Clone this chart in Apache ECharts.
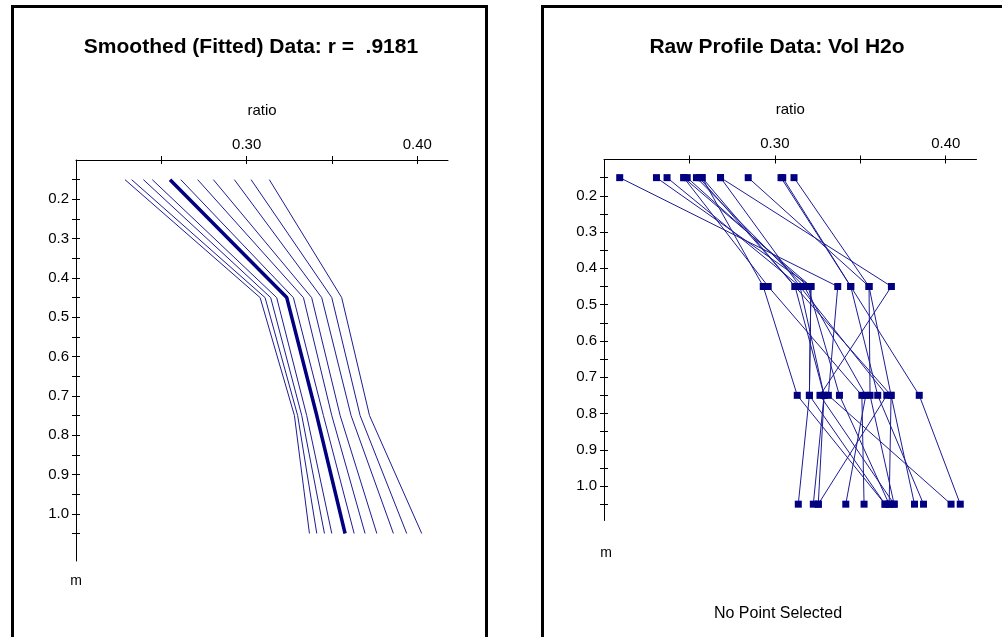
<!DOCTYPE html>
<html>
<head>
<meta charset="utf-8">
<script src="https://cdn.jsdelivr.net/npm/echarts@6/dist/echarts.min.js"></script>
<style>
html,body{margin:0;padding:0;background:#fff;}
#c{width:1002px;height:637px;}
</style>
</head>
<body>
<div id="c"></div>
<script>
// ---------- data ----------
const depths = [0.15, 0.45, 0.75, 1.05];

// Smoothed (fitted) profiles, ratio at each depth
const fitThin = [
  [0.2287, 0.3079, 0.3280, 0.3368],
  [0.2326, 0.3108, 0.3299, 0.3411],
  [0.2395, 0.3141, 0.3323, 0.3456],
  [0.2447, 0.3176, 0.3352, 0.3499],
  [0.2614, 0.3274, 0.3450, 0.3630],
  [0.2713, 0.3333, 0.3499, 0.3694],
  [0.2805, 0.3381, 0.3548, 0.3763],
  [0.2928, 0.3440, 0.3612, 0.3860],
  [0.3026, 0.3499, 0.3665, 0.3938],
  [0.3133, 0.3557, 0.3720, 0.4026]
];
const fitMean = [0.2551, 0.3235, 0.3411, 0.3577];

// Raw profile data (Vol H2o), ratio at each depth
const rawProfiles = [
  [0.2092, 0.3368, 0.3313, 0.4031],
  [0.2307, 0.3211, 0.3202, 0.3137],
  [0.2369, 0.3147, 0.3288, 0.3225],
  [0.2467, 0.2961, 0.3509, 0.3522],
  [0.2574, 0.2932, 0.3131, 0.3645],
  [0.2487, 0.3194, 0.3378, 0.3669],
  [0.2541, 0.3171, 0.3532, 0.3415],
  [0.2557, 0.3118, 0.3680, 0.3817],
  [0.2682, 0.3682, 0.3264, 0.3698],
  [0.2682, 0.3147, 0.3655, 0.3254],
  [0.2844, 0.3551, 0.3557, 0.3698],
  [0.3036, 0.3444, 0.3845, 0.4085],
  [0.3046, 0.3444, 0.3602, 0.3870],
  [0.3112, 0.3551, 0.3680, 0.3669],
  [0.2467, 0.3211, 0.3202, 0.3645],
  [0.2574, 0.3118, 0.3288, 0.3254]
];

// ticks / labels
const xTicks = [0.25, 0.30, 0.35, 0.40];
const xLabels = [0.30, 0.40];
const yTicks = [0.15,0.20,0.25,0.30,0.35,0.40,0.45,0.50,0.55,0.60,0.65,0.70,0.75,0.80,0.85,0.90,0.95,1.00,1.05];
const yLabels = [0.2,0.3,0.4,0.5,0.6,0.7,0.8,0.9,1.0];

// ---------- chart ----------
const FONT = 'Liberation Sans, Arial, sans-serif';
const chart = echarts.init(document.getElementById('c'), null, {renderer:'canvas'});

const grids = [
  {left:76, top:160, width:372, height:401},
  {left:604, top:159.5, width:372.5, height:361}
];
const yMax = [1.12, 1.095];

function xAxes(gi){
  return [
    {
      gridIndex: gi, type:'value', position:'top', min:0.2, max:0.418,
      axisLine:{show:true, lineStyle:{color:'#000', width:1}},
      axisTick:{show:true, customValues:xTicks, length:4, lineStyle:{color:'#000'}},
      axisLabel:{show:true, customValues:xLabels, formatter:v=>v.toFixed(2), color:'#000', fontSize:15, fontFamily:FONT, margin:8},
      splitLine:{show:false},
      name:'ratio', nameLocation:'middle', nameGap:42,
      nameTextStyle:{color:'#000', fontSize:15, fontFamily:FONT}
    },
    {
      gridIndex: gi, type:'value', position:'top', min:0.2, max:0.418,
      axisLine:{show:false},
      axisTick:{show:true, inside:true, customValues:xTicks, length:4, lineStyle:{color:'#000'}},
      axisLabel:{show:false}, splitLine:{show:false}
    }
  ];
}
function yAxes(gi){
  return [
    {
      gridIndex: gi, type:'value', inverse:true, position:'left', min:0.1, max:yMax[gi],
      axisLine:{show:true, lineStyle:{color:'#000', width:1}},
      axisTick:{show:true, customValues:yTicks, length:4, lineStyle:{color:'#000'}},
      axisLabel:{show:true, customValues:yLabels, formatter:v=>v.toFixed(1), color:'#000', fontSize:15, fontFamily:FONT, margin:7},
      splitLine:{show:false}
    },
    {
      gridIndex: gi, type:'value', inverse:true, position:'left', min:0.1, max:yMax[gi],
      axisLine:{show:false},
      axisTick:{show:true, inside:true, customValues:yTicks, length:4, lineStyle:{color:'#000'}},
      axisLabel:{show:false}, splitLine:{show:false}
    }
  ];
}

const series = [];
fitThin.forEach(p => series.push({
  type:'line', xAxisIndex:0, yAxisIndex:0, symbol:'none', silent:true,
  data: depths.map((d,i)=>[p[i], d]),
  lineStyle:{color:'#1c1c94', width:1}
}));
series.push({
  type:'line', xAxisIndex:0, yAxisIndex:0, symbol:'none', silent:true,
  data: depths.map((d,i)=>[fitMean[i], d]),
  lineStyle:{color:'#000080', width:3.5}
});
rawProfiles.forEach(p => series.push({
  type:'line', xAxisIndex:2, yAxisIndex:2, symbol:'rect', symbolSize:7, silent:true,
  data: depths.map((d,i)=>[p[i], d]),
  itemStyle:{color:'#000080'},
  lineStyle:{color:'#1c1c94', width:1}
}));

const TFONT = 'bold 21px Liberation Sans, Arial, sans-serif';
chart.setOption({
  backgroundColor:'#fff',
  animation:false,
  grid: grids,
  xAxis: [...xAxes(0), ...xAxes(1)],
  yAxis: [...yAxes(0), ...yAxes(1)],
  series: series,
  graphic: [
    {type:'rect', z:-1, shape:{x:12.5, y:6.5, width:474, height:700}, style:{fill:'none', stroke:'#000', lineWidth:3}},
    {type:'rect', z:-1, shape:{x:542.5, y:6.5, width:520, height:700}, style:{fill:'none', stroke:'#000', lineWidth:3}},
    {type:'text', x:251, y:47, style:{text:'Smoothed (Fitted) Data: r =  .9181', textAlign:'center', textVerticalAlign:'middle', font:TFONT, fill:'#000'}},
    {type:'text', x:777, y:47, style:{text:'Raw Profile Data: Vol H2o', textAlign:'center', textVerticalAlign:'middle', font:TFONT, fill:'#000'}},
    {type:'text', x:76, y:581, style:{text:'m', textAlign:'center', textVerticalAlign:'middle', font:'14px Liberation Sans, Arial, sans-serif', fill:'#000'}},
    {type:'text', x:606, y:553, style:{text:'m', textAlign:'center', textVerticalAlign:'middle', font:'14px Liberation Sans, Arial, sans-serif', fill:'#000'}},
    {type:'text', x:778, y:614, style:{text:'No Point Selected', textAlign:'center', textVerticalAlign:'middle', font:'16px Liberation Sans, Arial, sans-serif', fill:'#000'}}
  ]
});
</script>
</body>
</html>
